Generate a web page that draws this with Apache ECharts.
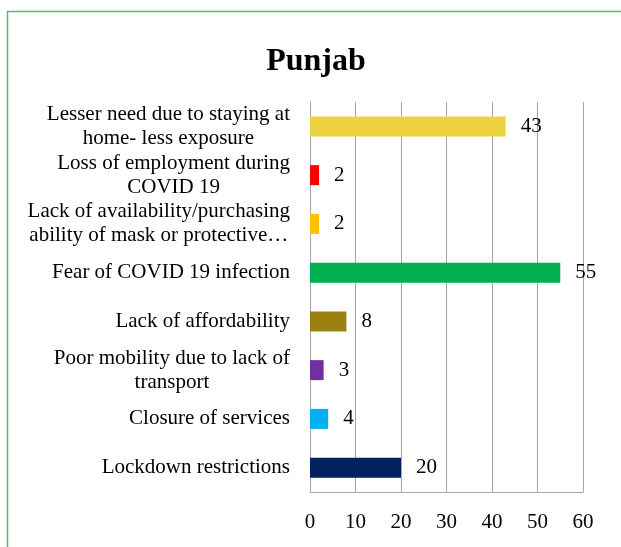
<!DOCTYPE html>
<html>
<head>
<meta charset="utf-8">
<script src="https://cdn.jsdelivr.net/npm/echarts@6/dist/echarts.min.js"></script>
<style>
  html, body { margin: 0; padding: 0; background: #ffffff; }
  #chart { width: 621px; height: 547px; }
</style>
</head>
<body>
<div id="chart"></div>
<script>
// Reasons listed top to bottom
const categories = [
  'Lesser need due to staying at\nhome- less exposure',
  'Loss of employment during\nCOVID 19',
  'Lack of availability/purchasing\nability of mask or protective\u2026',
  'Fear of COVID 19 infection',
  'Lack of affordability',
  'Poor mobility due to lack of\ntransport',
  'Closure of services',
  'Lockdown restrictions'
];
const values = [43, 2, 2, 55, 8, 3, 4, 20];
const barColors = ['#EED13E', '#FF0000', '#FFC000', '#00B050', '#9C8111', '#7030A0', '#00B0F0', '#002060'];
const xTicks = [0, 10, 20, 30, 40, 50, 60];

const serif = '"Liberation Serif", "Times New Roman", serif';

// category axis runs bottom-up, so reverse for top-to-bottom order
const cats = categories.slice().reverse();
const vals = values.slice().reverse();
const cols = barColors.slice().reverse();

const chart = echarts.init(document.getElementById('chart'), null, { renderer: 'canvas' });
chart.setOption({
  backgroundColor: '#ffffff',
  animation: false,
  title: {
    text: 'Punjab',
    left: 311,
    textAlign: 'center',
    top: 41,
    textStyle: { fontFamily: serif, fontSize: 32, fontWeight: 'bold', color: '#000000' }
  },
  graphic: [{
    type: 'rect',
    shape: { x: 7.5, y: 11.5, width: 640, height: 560 },
    style: { fill: 'none', stroke: '#3cc47a', lineWidth: 1.5 },
    silent: true,
    z: -1
  }],
  grid: { left: 310, right: 38, top: 102, bottom: 55, containLabel: false },
  xAxis: {
    type: 'value',
    min: xTicks[0],
    max: xTicks[xTicks.length - 1],
    interval: 10,
    axisLine: { show: true, lineStyle: { color: '#a6a6a6', width: 1 } },
    axisTick: { show: false },
    splitLine: { show: true, lineStyle: { color: '#a6a6a6', width: 1 } },
    axisLabel: {
      margin: 20,
      fontFamily: serif, fontSize: 21, color: '#000000',
      formatter: v => String(v)
    }
  },
  yAxis: {
    type: 'category',
    data: cats,
    axisLine: { show: true, lineStyle: { color: '#a6a6a6', width: 1 } },
    axisTick: { show: false },
    axisLabel: {
      margin: 20,
      formatter: v => v.split('\n').map(l => '{c|' + l + '}').join('\n'),
      rich: {
        c: { fontFamily: serif, fontSize: 21, color: '#000000', lineHeight: 24, align: 'center' }
      }
    }
  },
  series: [{
    type: 'bar',
    data: vals.map((v, i) => ({ value: v, itemStyle: { color: cols[i] } })),
    barWidth: 20,
    label: {
      show: true,
      position: 'right',
      distance: 15,
      fontFamily: serif, fontSize: 21, color: '#000000'
    }
  }]
});
</script>
</body>
</html>
